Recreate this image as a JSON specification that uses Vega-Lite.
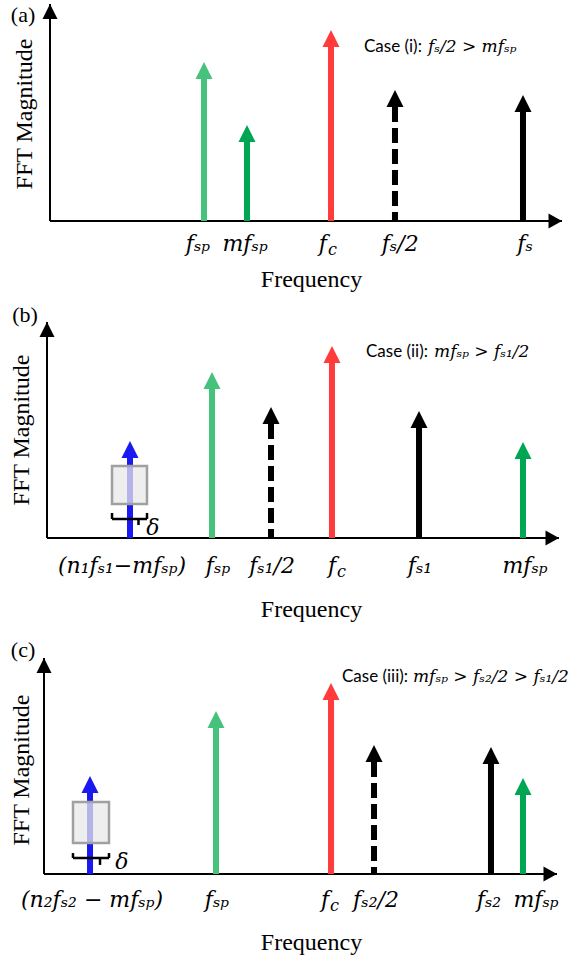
{
"$schema":"https://vega.github.io/schema/vega-lite/v6.json",
"padding":0,
"spacing":0,
"bounds":"flush",
"background":"white",
"config":{"view":{"stroke":null}},
"datasets":{
"arrows":[
{"panel":"a","name":"fsp","freq":30.08,"mag":0.654,"tone":"sideband","style":"solid"},
{"panel":"a","name":"mfsp","freq":38.48,"mag":0.364,"tone":"harmonic","style":"solid"},
{"panel":"a","name":"fc","freq":54.88,"mag":0.802,"tone":"carrier","style":"solid"},
{"panel":"a","name":"fs/2","freq":67.38,"mag":0.525,"tone":"sampling","style":"dashed"},
{"panel":"a","name":"fs","freq":92.38,"mag":0.502,"tone":"sampling","style":"solid"},
{"panel":"b","name":"n1fs1-mfsp","freq":16.21,"mag":0.370,"tone":"alias","style":"solid"},
{"panel":"b","name":"fsp","freq":32.23,"mag":0.690,"tone":"sideband","style":"solid"},
{"panel":"b","name":"fs1/2","freq":43.75,"mag":0.528,"tone":"sampling","style":"dashed"},
{"panel":"b","name":"fc","freq":55.66,"mag":0.810,"tone":"carrier","style":"solid"},
{"panel":"b","name":"fs1","freq":72.66,"mag":0.509,"tone":"sampling","style":"solid"},
{"panel":"b","name":"mfsp","freq":92.97,"mag":0.366,"tone":"harmonic","style":"solid"},
{"panel":"c","name":"n2fs2-mfsp","freq":8.97,"mag":0.375,"tone":"alias","style":"solid"},
{"panel":"c","name":"fsp","freq":33.53,"mag":0.676,"tone":"sideband","style":"solid"},
{"panel":"c","name":"fc","freq":55.95,"mag":0.806,"tone":"carrier","style":"solid"},
{"panel":"c","name":"fs2/2","freq":64.33,"mag":0.519,"tone":"sampling","style":"dashed"},
{"panel":"c","name":"fs2","freq":87.13,"mag":0.509,"tone":"sampling","style":"solid"},
{"panel":"c","name":"mfsp","freq":93.37,"mag":0.366,"tone":"harmonic","style":"solid"}
],
"labels":[
{"panel":"a","freq":28.9,"text":"fₛₚ"},
{"panel":"a","freq":38.1,"text":"mfₛₚ"},
{"panel":"a","freq":53.3,"text":"f","sub":"c"},
{"panel":"a","freq":68.4,"text":"fₛ/2"},
{"panel":"a","freq":92.8,"text":"fₛ"},
{"panel":"b","freq":14.65,"text":"(n₁fₛ₁−mfₛₚ)"},
{"panel":"b","freq":33.40,"text":"fₛₚ"},
{"panel":"b","freq":43.95,"text":"fₛ₁/2"},
{"panel":"b","freq":55.66,"text":"f","sub":"c"},
{"panel":"b","freq":72.85,"text":"fₛ₁"},
{"panel":"b","freq":93.36,"text":"mfₛₚ"},
{"panel":"c","freq":9.36,"text":"(n₂fₛ₂ − mfₛₚ)"},
{"panel":"c","freq":33.72,"text":"fₛₚ"},
{"panel":"c","freq":54.77,"text":"f","sub":"c"},
{"panel":"c","freq":64.72,"text":"fₛ₂/2"},
{"panel":"c","freq":86.74,"text":"fₛ₂"},
{"panel":"c","freq":95.91,"text":"mfₛₚ"}
],
"boxes":[
{"panel":"b","f1":12.70,"f2":19.53,"m1":0.157,"m2":0.333},
{"panel":"c","f1":5.65,"f2":12.67,"m1":0.144,"m2":0.333}
],
"braces":[
{"panel":"b","f0":12.70,"m0":0.088,"f1":19.53,"m1":0.088},
{"panel":"b","f0":12.70,"m0":0.116,"f1":12.70,"m1":0.088},
{"panel":"b","f0":19.53,"m0":0.116,"f1":19.53,"m1":0.088},
{"panel":"b","f0":17.87,"m0":0.088,"f1":17.87,"m1":0.060},
{"panel":"c","f0":5.65,"m0":0.074,"f1":12.67,"m1":0.074},
{"panel":"c","f0":5.65,"m0":0.097,"f1":5.65,"m1":0.074},
{"panel":"c","f0":12.67,"m0":0.097,"f1":12.67,"m1":0.074},
{"panel":"c","f0":10.92,"m0":0.074,"f1":10.92,"m1":0.042}
],
"axes":[
{"panel":"a","f0":0,"m0":0,"f1":0,"m1":1},{"panel":"a","f0":0,"m0":0,"f1":100,"m1":0},
{"panel":"b","f0":0,"m0":0,"f1":0,"m1":1},{"panel":"b","f0":0,"m0":0,"f1":100,"m1":0},
{"panel":"c","f0":0,"m0":0,"f1":0,"m1":1},{"panel":"c","f0":0,"m0":0,"f1":100,"m1":0}
],
"axisheads":[
{"panel":"a","f":0,"m":1,"dir":"up"},{"panel":"a","f":100,"m":0,"dir":"right"},
{"panel":"b","f":0,"m":1,"dir":"up"},{"panel":"b","f":100,"m":0,"dir":"right"},
{"panel":"c","f":0,"m":1,"dir":"up"},{"panel":"c","f":100,"m":0,"dir":"right"}
]
},
"vconcat":[
{
"width":581,"height":300,
"layer":[
{"data":{"name":"axes"},"transform":[{"filter":"datum.panel==='a'"}],
"mark":{"type":"rule","strokeWidth":2,"color":"#000000"},
"encoding":{"x":{"field":"f0","type":"quantitative","scale":{"domain":[-9.766,103.711],"nice":false,"zero":false},"axis":null},
"y":{"field":"m0","type":"quantitative","scale":{"domain":[-0.3641,1.0184],"nice":false,"zero":false},"axis":null},
"x2":{"field":"f1"},"y2":{"field":"m1"}}},
{"data":{"name":"axisheads"},"transform":[{"filter":"datum.panel==='a'"}],
"mark":{"type":"point","filled":true,"opacity":1,"size":225,"color":"#000000","strokeWidth":0},
"encoding":{"x":{"field":"f","type":"quantitative","scale":{"domain":[-9.766,103.711],"nice":false,"zero":false},"axis":null},
"y":{"field":"m","type":"quantitative","scale":{"domain":[-0.3641,1.0184],"nice":false,"zero":false},"axis":null},
"shape":{"field":"dir","type":"nominal","scale":{"domain":["up","right"],"range":["M0,0L-1,2L1,2Z","M0,0L-1.8,-1L-1.8,1Z"]},"legend":null}}},
{"data":{"name":"arrows"},"transform":[{"filter":"datum.panel==='a'"}],
"mark":{"type":"rule","strokeWidth":6},
"encoding":{"x":{"field":"freq","type":"quantitative","scale":{"domain":[-9.766,103.711],"nice":false,"zero":false},"axis":null},
"y":{"field":"mag","type":"quantitative","scale":{"domain":[-0.3641,1.0184],"nice":false,"zero":false},"axis":null},
"y2":{"datum":0},
"color":{"field":"tone","type":"nominal","scale":{"domain":["sideband","harmonic","carrier","sampling","alias"],"range":["#47C27D","#00A651","#FF3B3B","#000000","#1A1AF0"]},"legend":null},
"strokeDash":{"field":"style","type":"nominal","scale":{"domain":["solid","dashed"],"range":[[1,0],[15,6]]},"legend":null}}},
{"data":{"name":"arrows"},"transform":[{"filter":"datum.panel==='a'"}],
"mark":{"type":"point","filled":true,"opacity":1,"size":289,"strokeWidth":0,"shape":"M-1,0L1,0L0,-2Z"},
"encoding":{"x":{"field":"freq","type":"quantitative","scale":{"domain":[-9.766,103.711],"nice":false,"zero":false},"axis":null},
"y":{"field":"mag","type":"quantitative","scale":{"domain":[-0.3641,1.0184],"nice":false,"zero":false},"axis":null},
"color":{"field":"tone","type":"nominal","scale":{"domain":["sideband","harmonic","carrier","sampling","alias"],"range":["#47C27D","#00A651","#FF3B3B","#000000","#1A1AF0"]},"legend":null}}},
{"data":{"name":"labels"},"transform":[{"filter":"datum.panel==='a'"}],
"mark":{"type":"text","font":"DejaVu Serif","fontStyle":"italic","fontSize":22,"baseline":"alphabetic","align":"center","dy":30,"color":"#000000"},
"encoding":{"x":{"field":"freq","type":"quantitative","scale":{"domain":[-9.766,103.711],"nice":false,"zero":false},"axis":null},
"y":{"datum":0,"type":"quantitative","scale":{"domain":[-0.3641,1.0184],"nice":false,"zero":false},"axis":null},
"text":{"field":"text"}}},
{"data":{"name":"labels"},"transform":[{"filter":"datum.panel==='a' && datum.sub"}],
"mark":{"type":"text","font":"DejaVu Serif","fontStyle":"italic","fontSize":16,"baseline":"alphabetic","align":"left","dx":5,"dy":34,"color":"#000000"},
"encoding":{"x":{"field":"freq","type":"quantitative","scale":{"domain":[-9.766,103.711],"nice":false,"zero":false},"axis":null},
"y":{"datum":0,"type":"quantitative","scale":{"domain":[-0.3641,1.0184],"nice":false,"zero":false},"axis":null},
"text":{"field":"sub"}}},
{"data":{"values":[{}]},
"mark":{"type":"text","font":"Liberation Serif","fontSize":22,"align":"center","baseline":"middle","text":"(a)"},
"encoding":{"x":{"datum":-5.27,"type":"quantitative","scale":{"domain":[-9.766,103.711],"nice":false,"zero":false},"axis":null},
"y":{"datum":0.949,"type":"quantitative","scale":{"domain":[-0.3641,1.0184],"nice":false,"zero":false},"axis":null}}},
{"data":{"values":[{}]},
"mark":{"type":"text","font":"Liberation Serif","fontSize":24,"align":"center","baseline":"middle","angle":270,"text":"FFT Magnitude"},
"encoding":{"x":{"datum":-4.88,"type":"quantitative","scale":{"domain":[-9.766,103.711],"nice":false,"zero":false},"axis":null},
"y":{"datum":0.493,"type":"quantitative","scale":{"domain":[-0.3641,1.0184],"nice":false,"zero":false},"axis":null}}},
{"data":{"values":[{}]},
"mark":{"type":"text","font":"Liberation Serif","fontSize":24,"align":"center","baseline":"middle","text":"Frequency"},
"encoding":{"x":{"datum":51.07,"type":"quantitative","scale":{"domain":[-9.766,103.711],"nice":false,"zero":false},"axis":null},
"y":{"datum":-0.272,"type":"quantitative","scale":{"domain":[-0.3641,1.0184],"nice":false,"zero":false},"axis":null}}},
{"data":{"values":[{}]},
"mark":{"type":"text","font":"Lato","fontSize":17,"align":"left","baseline":"middle","text":"Case (i):"},
"encoding":{"x":{"datum":61.33,"type":"quantitative","scale":{"domain":[-9.766,103.711],"nice":false,"zero":false},"axis":null},
"y":{"datum":0.802,"type":"quantitative","scale":{"domain":[-0.3641,1.0184],"nice":false,"zero":false},"axis":null}}},
{"data":{"values":[{}]},
"mark":{"type":"text","font":"DejaVu Serif","fontStyle":"italic","fontSize":17,"align":"left","baseline":"middle","text":"fₛ/2 > mfₛₚ"},
"encoding":{"x":{"datum":73.83,"type":"quantitative","scale":{"domain":[-9.766,103.711],"nice":false,"zero":false},"axis":null},
"y":{"datum":0.802,"type":"quantitative","scale":{"domain":[-0.3641,1.0184],"nice":false,"zero":false},"axis":null}}}
]
},
{
"width":581,"height":330,
"layer":[
{"data":{"name":"axes"},"transform":[{"filter":"datum.panel==='b'"}],
"mark":{"type":"rule","strokeWidth":2,"color":"#000000"},
"encoding":{"x":{"field":"f0","type":"quantitative","scale":{"domain":[-9.180,104.297],"nice":false,"zero":false},"axis":null},
"y":{"field":"m0","type":"quantitative","scale":{"domain":[-0.4259,1.1019],"nice":false,"zero":false},"axis":null},
"x2":{"field":"f1"},"y2":{"field":"m1"}}},
{"data":{"name":"axisheads"},"transform":[{"filter":"datum.panel==='b'"}],
"mark":{"type":"point","filled":true,"opacity":1,"size":225,"color":"#000000","strokeWidth":0},
"encoding":{"x":{"field":"f","type":"quantitative","scale":{"domain":[-9.180,104.297],"nice":false,"zero":false},"axis":null},
"y":{"field":"m","type":"quantitative","scale":{"domain":[-0.4259,1.1019],"nice":false,"zero":false},"axis":null},
"shape":{"field":"dir","type":"nominal","scale":{"domain":["up","right"],"range":["M0,0L-1,2L1,2Z","M0,0L-1.8,-1L-1.8,1Z"]},"legend":null}}},
{"data":{"name":"arrows"},"transform":[{"filter":"datum.panel==='b'"}],
"mark":{"type":"rule","strokeWidth":6},
"encoding":{"x":{"field":"freq","type":"quantitative","scale":{"domain":[-9.180,104.297],"nice":false,"zero":false},"axis":null},
"y":{"field":"mag","type":"quantitative","scale":{"domain":[-0.4259,1.1019],"nice":false,"zero":false},"axis":null},
"y2":{"datum":0},
"color":{"field":"tone","type":"nominal","scale":{"domain":["sideband","harmonic","carrier","sampling","alias"],"range":["#47C27D","#00A651","#FF3B3B","#000000","#1A1AF0"]},"legend":null},
"strokeDash":{"field":"style","type":"nominal","scale":{"domain":["solid","dashed"],"range":[[1,0],[15,6]]},"legend":null}}},
{"data":{"name":"arrows"},"transform":[{"filter":"datum.panel==='b'"}],
"mark":{"type":"point","filled":true,"opacity":1,"size":289,"strokeWidth":0,"shape":"M-1,0L1,0L0,-2Z"},
"encoding":{"x":{"field":"freq","type":"quantitative","scale":{"domain":[-9.180,104.297],"nice":false,"zero":false},"axis":null},
"y":{"field":"mag","type":"quantitative","scale":{"domain":[-0.4259,1.1019],"nice":false,"zero":false},"axis":null},
"color":{"field":"tone","type":"nominal","scale":{"domain":["sideband","harmonic","carrier","sampling","alias"],"range":["#47C27D","#00A651","#FF3B3B","#000000","#1A1AF0"]},"legend":null}}},
{"data":{"name":"boxes"},"transform":[{"filter":"datum.panel==='b'"}],
"mark":{"type":"rect","fill":"#E8E8E8","fillOpacity":0.75,"stroke":"#A0A0A0","strokeWidth":2.5},
"encoding":{"x":{"field":"f1","type":"quantitative","scale":{"domain":[-9.180,104.297],"nice":false,"zero":false},"axis":null},
"x2":{"field":"f2"},
"y":{"field":"m1","type":"quantitative","scale":{"domain":[-0.4259,1.1019],"nice":false,"zero":false},"axis":null},
"y2":{"field":"m2"}}},
{"data":{"name":"braces"},"transform":[{"filter":"datum.panel==='b'"}],
"mark":{"type":"rule","strokeWidth":2.5,"color":"#000000"},
"encoding":{"x":{"field":"f0","type":"quantitative","scale":{"domain":[-9.180,104.297],"nice":false,"zero":false},"axis":null},
"y":{"field":"m0","type":"quantitative","scale":{"domain":[-0.4259,1.1019],"nice":false,"zero":false},"axis":null},
"x2":{"field":"f1"},"y2":{"field":"m1"}}},
{"data":{"values":[{}]},
"mark":{"type":"text","font":"DejaVu Serif","fontStyle":"italic","fontSize":22,"align":"center","baseline":"middle","text":"δ"},
"encoding":{"x":{"datum":20.70,"type":"quantitative","scale":{"domain":[-9.180,104.297],"nice":false,"zero":false},"axis":null},
"y":{"datum":0.046,"type":"quantitative","scale":{"domain":[-0.4259,1.1019],"nice":false,"zero":false},"axis":null}}},
{"data":{"name":"labels"},"transform":[{"filter":"datum.panel==='b'"}],
"mark":{"type":"text","font":"DejaVu Serif","fontStyle":"italic","fontSize":22,"baseline":"alphabetic","align":"center","dy":35,"color":"#000000"},
"encoding":{"x":{"field":"freq","type":"quantitative","scale":{"domain":[-9.180,104.297],"nice":false,"zero":false},"axis":null},
"y":{"datum":0,"type":"quantitative","scale":{"domain":[-0.4259,1.1019],"nice":false,"zero":false},"axis":null},
"text":{"field":"text"}}},
{"data":{"name":"labels"},"transform":[{"filter":"datum.panel==='b' && datum.sub"}],
"mark":{"type":"text","font":"DejaVu Serif","fontStyle":"italic","fontSize":16,"baseline":"alphabetic","align":"left","dx":5,"dy":39,"color":"#000000"},
"encoding":{"x":{"field":"freq","type":"quantitative","scale":{"domain":[-9.180,104.297],"nice":false,"zero":false},"axis":null},
"y":{"datum":0,"type":"quantitative","scale":{"domain":[-0.4259,1.1019],"nice":false,"zero":false},"axis":null},
"text":{"field":"sub"}}},
{"data":{"values":[{}]},
"mark":{"type":"text","font":"Liberation Serif","fontSize":22,"align":"center","baseline":"middle","text":"(b)"},
"encoding":{"x":{"datum":-4.30,"type":"quantitative","scale":{"domain":[-9.180,104.297],"nice":false,"zero":false},"axis":null},
"y":{"datum":1.032,"type":"quantitative","scale":{"domain":[-0.4259,1.1019],"nice":false,"zero":false},"axis":null}}},
{"data":{"values":[{}]},
"mark":{"type":"text","font":"Liberation Serif","fontSize":24,"align":"center","baseline":"middle","angle":270,"text":"FFT Magnitude"},
"encoding":{"x":{"datum":-4.88,"type":"quantitative","scale":{"domain":[-9.180,104.297],"nice":false,"zero":false},"axis":null},
"y":{"datum":0.5,"type":"quantitative","scale":{"domain":[-0.4259,1.1019],"nice":false,"zero":false},"axis":null}}},
{"data":{"values":[{}]},
"mark":{"type":"text","font":"Liberation Serif","fontSize":24,"align":"center","baseline":"middle","text":"Frequency"},
"encoding":{"x":{"datum":51.66,"type":"quantitative","scale":{"domain":[-9.180,104.297],"nice":false,"zero":false},"axis":null},
"y":{"datum":-0.333,"type":"quantitative","scale":{"domain":[-0.4259,1.1019],"nice":false,"zero":false},"axis":null}}},
{"data":{"values":[{}]},
"mark":{"type":"text","font":"Lato","fontSize":17,"align":"left","baseline":"middle","text":"Case (ii):"},
"encoding":{"x":{"datum":62.30,"type":"quantitative","scale":{"domain":[-9.180,104.297],"nice":false,"zero":false},"axis":null},
"y":{"datum":0.861,"type":"quantitative","scale":{"domain":[-0.4259,1.1019],"nice":false,"zero":false},"axis":null}}},
{"data":{"values":[{}]},
"mark":{"type":"text","font":"DejaVu Serif","fontStyle":"italic","fontSize":17,"align":"left","baseline":"middle","text":"mfₛₚ > fₛ₁/2"},
"encoding":{"x":{"datum":75.59,"type":"quantitative","scale":{"domain":[-9.180,104.297],"nice":false,"zero":false},"axis":null},
"y":{"datum":0.861,"type":"quantitative","scale":{"domain":[-0.4259,1.1019],"nice":false,"zero":false},"axis":null}}}
]
},
{
"width":581,"height":330,
"layer":[
{"data":{"name":"axes"},"transform":[{"filter":"datum.panel==='c'"}],
"mark":{"type":"rule","strokeWidth":2,"color":"#000000"},
"encoding":{"x":{"field":"f0","type":"quantitative","scale":{"domain":[-8.577,104.678],"nice":false,"zero":false},"axis":null},
"y":{"field":"m0","type":"quantitative","scale":{"domain":[-0.3981,1.1296],"nice":false,"zero":false},"axis":null},
"x2":{"field":"f1"},"y2":{"field":"m1"}}},
{"data":{"name":"axisheads"},"transform":[{"filter":"datum.panel==='c'"}],
"mark":{"type":"point","filled":true,"opacity":1,"size":225,"color":"#000000","strokeWidth":0},
"encoding":{"x":{"field":"f","type":"quantitative","scale":{"domain":[-8.577,104.678],"nice":false,"zero":false},"axis":null},
"y":{"field":"m","type":"quantitative","scale":{"domain":[-0.3981,1.1296],"nice":false,"zero":false},"axis":null},
"shape":{"field":"dir","type":"nominal","scale":{"domain":["up","right"],"range":["M0,0L-1,2L1,2Z","M0,0L-1.8,-1L-1.8,1Z"]},"legend":null}}},
{"data":{"name":"arrows"},"transform":[{"filter":"datum.panel==='c'"}],
"mark":{"type":"rule","strokeWidth":6},
"encoding":{"x":{"field":"freq","type":"quantitative","scale":{"domain":[-8.577,104.678],"nice":false,"zero":false},"axis":null},
"y":{"field":"mag","type":"quantitative","scale":{"domain":[-0.3981,1.1296],"nice":false,"zero":false},"axis":null},
"y2":{"datum":0},
"color":{"field":"tone","type":"nominal","scale":{"domain":["sideband","harmonic","carrier","sampling","alias"],"range":["#47C27D","#00A651","#FF3B3B","#000000","#1A1AF0"]},"legend":null},
"strokeDash":{"field":"style","type":"nominal","scale":{"domain":["solid","dashed"],"range":[[1,0],[15,6]]},"legend":null}}},
{"data":{"name":"arrows"},"transform":[{"filter":"datum.panel==='c'"}],
"mark":{"type":"point","filled":true,"opacity":1,"size":289,"strokeWidth":0,"shape":"M-1,0L1,0L0,-2Z"},
"encoding":{"x":{"field":"freq","type":"quantitative","scale":{"domain":[-8.577,104.678],"nice":false,"zero":false},"axis":null},
"y":{"field":"mag","type":"quantitative","scale":{"domain":[-0.3981,1.1296],"nice":false,"zero":false},"axis":null},
"color":{"field":"tone","type":"nominal","scale":{"domain":["sideband","harmonic","carrier","sampling","alias"],"range":["#47C27D","#00A651","#FF3B3B","#000000","#1A1AF0"]},"legend":null}}},
{"data":{"name":"boxes"},"transform":[{"filter":"datum.panel==='c'"}],
"mark":{"type":"rect","fill":"#E8E8E8","fillOpacity":0.75,"stroke":"#A0A0A0","strokeWidth":2.5},
"encoding":{"x":{"field":"f1","type":"quantitative","scale":{"domain":[-8.577,104.678],"nice":false,"zero":false},"axis":null},
"x2":{"field":"f2"},
"y":{"field":"m1","type":"quantitative","scale":{"domain":[-0.3981,1.1296],"nice":false,"zero":false},"axis":null},
"y2":{"field":"m2"}}},
{"data":{"name":"braces"},"transform":[{"filter":"datum.panel==='c'"}],
"mark":{"type":"rule","strokeWidth":2.5,"color":"#000000"},
"encoding":{"x":{"field":"f0","type":"quantitative","scale":{"domain":[-8.577,104.678],"nice":false,"zero":false},"axis":null},
"y":{"field":"m0","type":"quantitative","scale":{"domain":[-0.3981,1.1296],"nice":false,"zero":false},"axis":null},
"x2":{"field":"f1"},"y2":{"field":"m1"}}},
{"data":{"values":[{}]},
"mark":{"type":"text","font":"DejaVu Serif","fontStyle":"italic","fontSize":22,"align":"center","baseline":"middle","text":"δ"},
"encoding":{"x":{"datum":15.20,"type":"quantitative","scale":{"domain":[-8.577,104.678],"nice":false,"zero":false},"axis":null},
"y":{"datum":0.056,"type":"quantitative","scale":{"domain":[-0.3981,1.1296],"nice":false,"zero":false},"axis":null}}},
{"data":{"name":"labels"},"transform":[{"filter":"datum.panel==='c'"}],
"mark":{"type":"text","font":"DejaVu Serif","fontStyle":"italic","fontSize":22,"baseline":"alphabetic","align":"center","dy":33,"color":"#000000"},
"encoding":{"x":{"field":"freq","type":"quantitative","scale":{"domain":[-8.577,104.678],"nice":false,"zero":false},"axis":null},
"y":{"datum":0,"type":"quantitative","scale":{"domain":[-0.3981,1.1296],"nice":false,"zero":false},"axis":null},
"text":{"field":"text"}}},
{"data":{"name":"labels"},"transform":[{"filter":"datum.panel==='c' && datum.sub"}],
"mark":{"type":"text","font":"DejaVu Serif","fontStyle":"italic","fontSize":16,"baseline":"alphabetic","align":"left","dx":5,"dy":37,"color":"#000000"},
"encoding":{"x":{"field":"freq","type":"quantitative","scale":{"domain":[-8.577,104.678],"nice":false,"zero":false},"axis":null},
"y":{"datum":0,"type":"quantitative","scale":{"domain":[-0.3981,1.1296],"nice":false,"zero":false},"axis":null},
"text":{"field":"sub"}}},
{"data":{"values":[{}]},
"mark":{"type":"text","font":"Liberation Serif","fontSize":22,"align":"center","baseline":"middle","text":"(c)"},
"encoding":{"x":{"datum":-4.09,"type":"quantitative","scale":{"domain":[-8.577,104.678],"nice":false,"zero":false},"axis":null},
"y":{"datum":1.037,"type":"quantitative","scale":{"domain":[-0.3981,1.1296],"nice":false,"zero":false},"axis":null}}},
{"data":{"values":[{}]},
"mark":{"type":"text","font":"Liberation Serif","fontSize":24,"align":"center","baseline":"middle","angle":270,"text":"FFT Magnitude"},
"encoding":{"x":{"datum":-4.29,"type":"quantitative","scale":{"domain":[-8.577,104.678],"nice":false,"zero":false},"axis":null},
"y":{"datum":0.481,"type":"quantitative","scale":{"domain":[-0.3981,1.1296],"nice":false,"zero":false},"axis":null}}},
{"data":{"values":[{}]},
"mark":{"type":"text","font":"Liberation Serif","fontSize":24,"align":"center","baseline":"middle","text":"Frequency"},
"encoding":{"x":{"datum":52.14,"type":"quantitative","scale":{"domain":[-8.577,104.678],"nice":false,"zero":false},"axis":null},
"y":{"datum":-0.319,"type":"quantitative","scale":{"domain":[-0.3981,1.1296],"nice":false,"zero":false},"axis":null}}},
{"data":{"values":[{}]},
"mark":{"type":"text","font":"Lato","fontSize":17,"align":"left","baseline":"middle","text":"Case (iii):"},
"encoding":{"x":{"datum":58.09,"type":"quantitative","scale":{"domain":[-8.577,104.678],"nice":false,"zero":false},"axis":null},
"y":{"datum":0.912,"type":"quantitative","scale":{"domain":[-0.3981,1.1296],"nice":false,"zero":false},"axis":null}}},
{"data":{"values":[{}]},
"mark":{"type":"text","font":"DejaVu Serif","fontStyle":"italic","fontSize":17,"align":"left","baseline":"middle","text":"mfₛₚ >  fₛ₂/2 > fₛ₁/2"},
"encoding":{"x":{"datum":71.93,"type":"quantitative","scale":{"domain":[-8.577,104.678],"nice":false,"zero":false},"axis":null},
"y":{"datum":0.912,"type":"quantitative","scale":{"domain":[-0.3981,1.1296],"nice":false,"zero":false},"axis":null}}}
]
}
]
}
